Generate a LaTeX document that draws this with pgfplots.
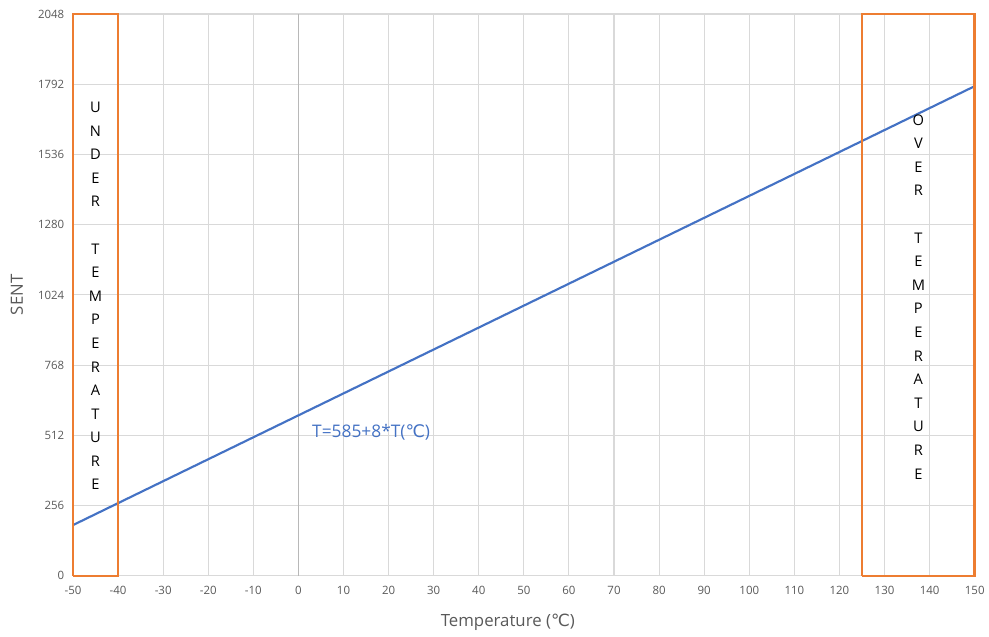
\documentclass[border=0pt]{standalone}
\usepackage{fontspec}
\setmainfont{Open Sans}
\newfontfamily\dejavu{DejaVu Sans}
\usepackage{pgfplots}
\pgfplotsset{compat=1.18}
\definecolor{xlblue}{HTML}{4472C4}
\definecolor{xlorange}{HTML}{ED7D31}
\definecolor{xlgrid}{HTML}{D9D9D9}
\definecolor{xltext}{HTML}{595959}
\newcommand{\degC}{{\dejavu ℃}}
\begin{document}
\begin{tikzpicture}
\begin{axis}[
  scale only axis,
  width=676.5pt, height=421.5pt,
  xmin=-50, xmax=150,
  ymin=0, ymax=2048,
  xtick={-50,-40,...,150},
  ytick={0,256,512,768,1024,1280,1536,1792,2048},
  grid=major,
  grid style={xlgrid, line width=0.8pt},
  axis line style={draw=none},
  major tick length=0pt,
  tick label style={font=\fontsize{8.6}{10}\selectfont, text=xltext},
  /pgf/number format/assume math mode=true,
  /pgf/number format/.cd, 1000 sep={}, /pgfplots/.cd,
  xticklabel style={yshift=-4pt},
  yticklabel style={xshift=-3pt},
  xlabel={Temperature (\degC)},
  ylabel={SENT},
  label style={font=\fontsize{12.6}{14}\selectfont, text=xltext},
  xlabel style={at={(rel axis cs:0.5,0)}, anchor=center, yshift=-35pt, xshift=-12pt},
  ylabel style={at={(rel axis cs:0,0.5)}, anchor=center, yshift=42pt},
  clip=false,
]
\path (rel axis cs:0,0) ++(-54.75pt,-45.75pt) rectangle (rel axis cs:1,1) ++(10.5pt,10.5pt);
% zero line
\addplot[color=black!28, line width=0.9pt] coordinates {(0,0)(0,2048)};
% SENT = 585 + 8*T
\addplot[color=xlblue, line width=1.6pt] coordinates {(-50,185)(150,1785)};
% under / over temperature regions
\addplot[color=xlorange, line width=2pt] coordinates {(-50,0)(-40,0)(-40,2048)(-50,2048)(-50,0)};
\addplot[color=xlorange, line width=2pt] coordinates {(125,0)(150,0)(150,2048)(125,2048)(125,0)};
\node[align=center, font=\fontsize{11}{17.7}\selectfont] at (axis cs:-45,1020)
  {U\\N\\D\\E\\R\\\mbox{}\\T\\E\\M\\P\\E\\R\\A\\T\\U\\R\\E};
\node[align=center, font=\fontsize{11}{17.7}\selectfont] at (axis cs:137.5,1017)
  {O\\V\\E\\R\\\mbox{}\\T\\E\\M\\P\\E\\R\\A\\T\\U\\R\\E};
\node[anchor=west, inner sep=0pt, text=xlblue, font=\fontsize{13}{15}\selectfont] at (axis cs:3,525)
  {T=585+8*T(\degC)};
\end{axis}
\end{tikzpicture}
\end{document}
